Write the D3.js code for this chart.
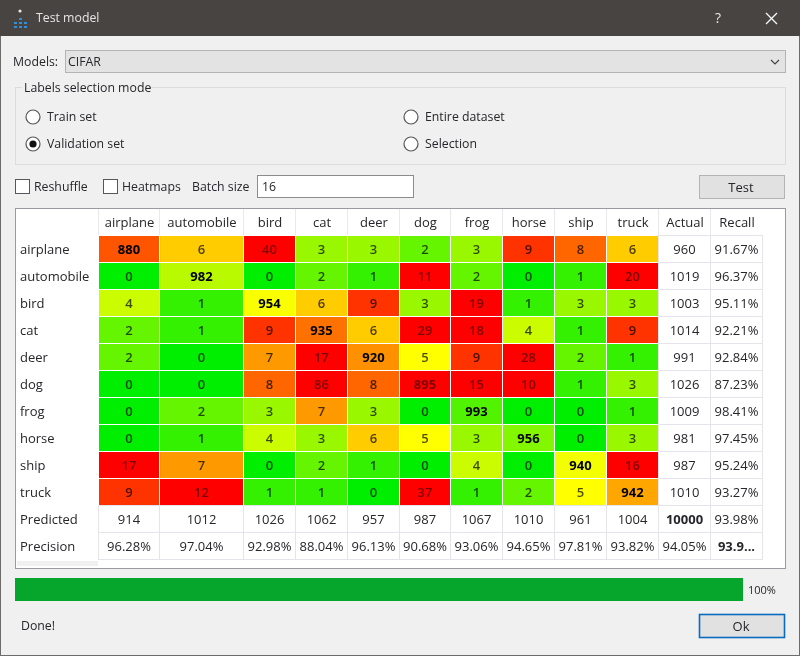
<!DOCTYPE html>
<html>
<head>
<meta charset="utf-8">
<title>Test model</title>
<script src="https://cdn.jsdelivr.net/npm/d3@7"></script>
<style>
  html, body { margin: 0; padding: 0; background: #f0f0f0; }
  svg { display: block; filter: blur(0.4px); }
  text { font-family: "Open Sans", "Noto Sans", sans-serif; font-size: 12.3px; fill: #26262b; }
  .colhead, .rowhead, .cell text, .total text { font-size: 13px; }
</style>
</head>
<body>
<div id="app"></div>
<script>
// values
const classes = ['airplane', 'automobile', 'bird', 'cat', 'deer', 'dog', 'frog', 'horse', 'ship', 'truck']
const extraCols = ['Actual', 'Recall']
const confusion = [
  [880, 6, 40, 3, 3, 2, 3, 9, 8, 6],
  [0, 982, 0, 2, 1, 11, 2, 0, 1, 20],
  [4, 1, 954, 6, 9, 3, 19, 1, 3, 3],
  [2, 1, 9, 935, 6, 29, 18, 4, 1, 9],
  [2, 0, 7, 17, 920, 5, 9, 28, 2, 1],
  [0, 0, 8, 86, 8, 895, 15, 10, 1, 3],
  [0, 2, 3, 7, 3, 0, 993, 0, 0, 1],
  [0, 1, 4, 3, 6, 5, 3, 956, 0, 3],
  [17, 7, 0, 2, 1, 0, 4, 0, 940, 16],
  [9, 12, 1, 1, 0, 37, 1, 2, 5, 942]
]
const actual = [960, 1019, 1003, 1014, 991, 1026, 1009, 981, 987, 1010]
const recall = [91.67, 96.37, 95.11, 92.21, 92.84, 87.23, 98.41, 97.45, 95.24, 93.27]
const predicted = [914, 1012, 1026, 1062, 957, 987, 1067, 1010, 961, 1004]
const precision = [96.28, 97.04, 92.98, 88.04, 96.13, 90.68, 93.06, 94.65, 97.81, 93.82]
const totalActual = '10000'
const accuracy = ['93.98%', '94.05%', '93.9...']
const progress = 100

// table geometry: the columns are as wide as their content
const colWidths = [61, 84, 52, 52, 52, 51, 52, 52, 52, 52, 52, 52]
const colNames = classes.concat(extraCols)
const colEdges = [99].concat(Array.from(d3.cumsum(colWidths), w => 99 + w))
const x = d3.scaleOrdinal().domain(colNames).range(colEdges)
const colW = d3.scaleOrdinal().domain(colNames).range(colWidths)
const rowNames = ['header'].concat(classes, ['Predicted', 'Precision'])
const y = d3.scaleBand().domain(rowNames).range([209, 560])

// off diagonal cells are coloured on the count, the diagonal on the error rate
const color = d3.scaleLinear()
  .domain([0, 5, 10])
  .range(['#00ee00', '#ffff00', '#ff0000'])
  .clamp(true)

const svg = d3.select('#app').append('svg')
  .attr('width', 800)
  .attr('height', 656)

function box(g, x0, y0, w, h, fill, stroke) {
  return g.append('rect')
    .attr('x', x0 + 0.5).attr('y', y0 + 0.5)
    .attr('width', w).attr('height', h)
    .attr('fill', fill)
    .attr('stroke', stroke || 'none')
}

function label(g, x0, y0, str, anchor) {
  return g.append('text')
    .attr('x', x0).attr('y', y0)
    .attr('dy', '.35em')
    .attr('text-anchor', anchor || 'start')
    .text(str)
}

// window frame and title bar
const win = svg.append('g')
box(win, 0, 0, 799, 655, '#f0f0f0', '#6e6c6a')
win.append('rect').attr('width', 800).attr('height', 36).attr('fill', '#474441')
label(win, 36, 18, 'Test model').style('fill', '#e6e6e6')
label(win, 718, 18, '?', 'middle').style('fill', '#e6e6e6').style('font-size', '14px')
win.append('path')
  .attr('d', 'M766,13L777,24M777,13L766,24')
  .attr('stroke', '#f4f4f4').attr('stroke-width', 1.4)
const icon = win.append('g')
icon.selectAll('rect')
  .data([[19, 0], [14, 1], [19, 1], [24, 1], [14, 2], [19, 2], [24, 2]])
  .enter()
  .append('rect')
  .attr('x', d => d[0])
  .attr('y', d => 18 + d[1] * 4)
  .attr('width', 3).attr('height', 2)
  .attr('fill', '#2f8fd8')
icon.append('circle').attr('cx', 20).attr('cy', 11).attr('r', 1.6).attr('fill', '#e8e8e8')

// model selector
const top_ = svg.append('g')
label(top_, 13, 62, 'Models:')
box(top_, 65, 50, 720, 22, '#e3e3e3', '#b4b4b4')
label(top_, 68, 62, 'CIFAR')
top_.append('path')
  .attr('d', 'M771,60L775,64L779,60')
  .attr('fill', 'none').attr('stroke', '#444').attr('stroke-width', 1.2)

// labels selection group
box(top_, 15, 87, 770, 77, 'none', '#dcdcdc')
top_.append('rect').attr('x', 22).attr('y', 82).attr('width', 126).attr('height', 12).attr('fill', '#f0f0f0')
label(top_, 24, 88, 'Labels selection mode')

const radios = [
  ['Train set', 33, 117, false],
  ['Validation set', 33, 144, true],
  ['Entire dataset', 411, 117, false],
  ['Selection', 411, 144, false]
]
radios.forEach(r => {
  top_.append('circle').attr('cx', r[1]).attr('cy', r[2]).attr('r', 7)
    .attr('fill', '#fff').attr('stroke', '#56565c').attr('stroke-width', 1.2)
  if (r[3]) top_.append('circle').attr('cx', r[1]).attr('cy', r[2]).attr('r', 3.6).attr('fill', '#111')
  label(top_, r[1] + 14, r[2], r[0])
})

// controls row
box(top_, 15, 179, 14, 14, '#fff', '#56565c')
label(top_, 34, 187, 'Reshuffle')
box(top_, 103, 179, 14, 14, '#fff', '#56565c')
label(top_, 122, 187, 'Heatmaps')
label(top_, 192, 187, 'Batch size')
box(top_, 257, 175, 156, 22, '#fff', '#8c8c8c')
label(top_, 262, 187, '16')
box(top_, 699, 175, 85, 23, '#e1e1e1', '#b4b4b4')
label(top_, 741, 187, 'Test', 'middle').style('font-size', '13px')

// table
const table = svg.append('g')
box(table, 15, 208, 770, 360, '#fff', '#9a9aa0')
table.append('rect').attr('x', 17).attr('y', 561).attr('width', 81).attr('height', 5).attr('fill', '#f0f0f0')

table.selectAll('.colhead')
  .data(colNames)
  .enter()
  .append('text')
  .attr('class', 'colhead')
  .attr('x', d => x(d) + colW(d) / 2)
  .attr('y', y('header') + y.bandwidth() / 2)
  .attr('dy', '.35em')
  .attr('text-anchor', 'middle')
  .text(d => d)

table.selectAll('.rowhead')
  .data(rowNames.slice(1))
  .enter()
  .append('text')
  .attr('class', 'rowhead')
  .attr('x', 20)
  .attr('y', d => y(d) + y.bandwidth() / 2)
  .attr('dy', '.35em')
  .text(d => d)

const cells = confusion.flatMap((row, i) => row.map((val, j) => ({
  row: classes[i],
  col: classes[j],
  val: val,
  diag: i === j,
  rate: i === j ? 100 - recall[i] : val
})))

const cell = table.selectAll('.cell')
  .data(cells)
  .enter()
  .append('g')
  .attr('class', 'cell')

cell.append('rect')
  .attr('x', d => x(d.col))
  .attr('y', d => y(d.row))
  .attr('width', d => colW(d.col) - 1)
  .attr('height', y.bandwidth() - 1)
  .style('fill', d => color(d.rate))

cell.append('text')
  .attr('x', d => x(d.col) + colW(d.col) / 2 - 0.5)
  .attr('y', d => y(d.row) + y.bandwidth() / 2)
  .attr('dy', '.35em')
  .attr('text-anchor', 'middle')
  .style('font-weight', d => d.diag ? 700 : 600)
  .style('fill', '#000')
  .style('fill-opacity', d => d.rate >= 10 ? 0.5 : (d.diag ? 1 : 0.7))
  .text(d => d.val)

// totals: plain cells with a thin grid
const plain = []
classes.forEach((c, i) => {
  plain.push({ col: 'Actual', row: c, str: actual[i] })
  plain.push({ col: 'Recall', row: c, str: recall[i].toFixed(2) + '%' })
  plain.push({ col: c, row: 'Predicted', str: predicted[i] })
  plain.push({ col: c, row: 'Precision', str: precision[i].toFixed(2) + '%' })
})
plain.push({ col: 'Actual', row: 'Predicted', str: totalActual, bold: true })
plain.push({ col: 'Recall', row: 'Predicted', str: accuracy[0] })
plain.push({ col: 'Actual', row: 'Precision', str: accuracy[1] })
plain.push({ col: 'Recall', row: 'Precision', str: accuracy[2], bold: true })

const totals = table.selectAll('.total')
  .data(plain)
  .enter()
  .append('g')
  .attr('class', 'total')

totals.append('rect')
  .attr('x', d => x(d.col) - 0.5)
  .attr('y', d => y(d.row) - 0.5)
  .attr('width', d => colW(d.col))
  .attr('height', y.bandwidth())
  .attr('fill', '#fff')
  .attr('stroke', '#e4e4ea')

totals.append('text')
  .attr('x', d => x(d.col) + colW(d.col) / 2 - 0.5)
  .attr('y', d => y(d.row) + y.bandwidth() / 2)
  .attr('dy', '.35em')
  .attr('text-anchor', 'middle')
  .style('font-weight', d => d.bold ? 700 : 400)
  .text(d => d.str)

// header separators
table.selectAll('.sep')
  .data(colNames)
  .enter()
  .append('line')
  .attr('class', 'sep')
  .attr('x1', d => x(d) - 0.5)
  .attr('x2', d => x(d) - 0.5)
  .attr('y1', 209)
  .attr('y2', 235)
  .attr('stroke', '#e8e8ee')

// progress bar
const barX = d3.scaleLinear().domain([0, 100]).range([15, 743])
const bottom = svg.append('g')
bottom.append('rect')
  .attr('x', barX(0))
  .attr('y', 578)
  .attr('width', barX(progress) - barX(0))
  .attr('height', 23)
  .attr('fill', '#06a62c')
label(bottom, 748, 590, progress + '%').style('font-size', '11px')
label(bottom, 21, 626, 'Done!')
box(bottom, 699, 614, 85, 23, '#e1e1e1', '#0a6cc0').attr('stroke-width', 1.6)
label(bottom, 741, 626, 'Ok', 'middle').style('font-size', '13px')
</script>
</body>
</html>
